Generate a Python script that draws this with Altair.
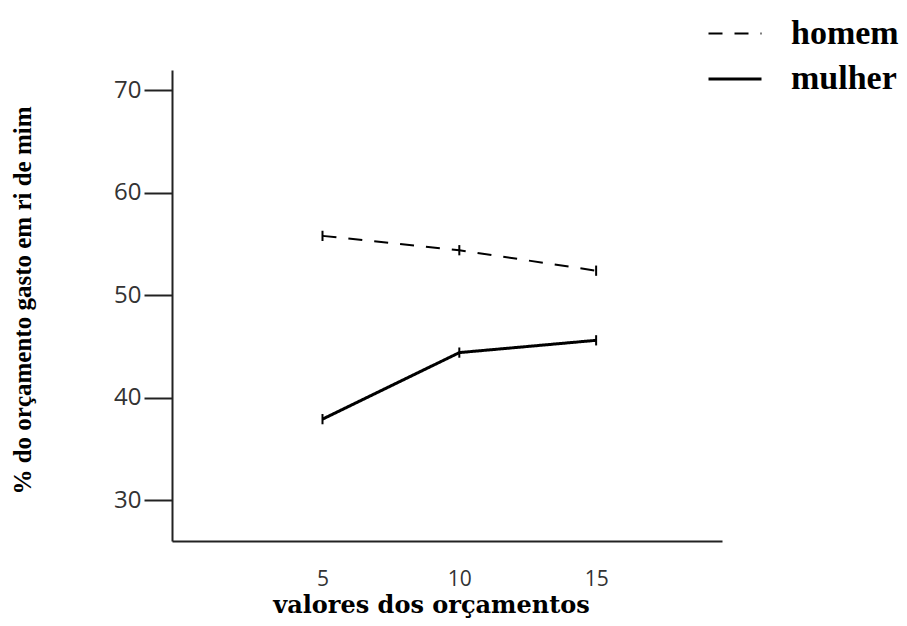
import altair as alt
import pandas as pd

orcamentos = [5, 10, 15]
series = ["homem", "mulher"]
homem = [55.8, 54.4, 52.4]
mulher = [37.9, 44.4, 45.6]
erro_homem = [0.5, 0.5, 0.5]
erro_mulher = [0.5, 0.5, 0.5]
y_ticks = [30, 40, 50, 60, 70]

rows = []
for s, vals, errs in [("homem", homem, erro_homem), ("mulher", mulher, erro_mulher)]:
    for xv, v, e in zip(orcamentos, vals, errs):
        rows.append({"orcamento": xv, "valor": v, "lo": v - e, "hi": v + e, "sexo": s})
df = pd.DataFrame(rows)

x_enc = alt.X(
    "orcamento:Q",
    scale=alt.Scale(domain=[-0.5, 19.6], nice=False, zero=False),
    axis=alt.Axis(
        values=orcamentos, title="valores dos orçamentos", tickSize=0, labelPadding=27,
        labelFont="Open Sans", labelFontSize=21, labelColor="#333", domainColor="#222",
        domainWidth=2, grid=False, titleFont="DejaVu Serif", titleFontSize=24,
        titleFontWeight="bold", titleX=259, titleY=71, titleBaseline="alphabetic",
        titleAlign="center", titleColor="black",
    ),
)
y_enc = alt.Y(
    "valor:Q",
    scale=alt.Scale(domain=[26, 72], nice=False, zero=False),
    axis=alt.Axis(
        values=y_ticks, title="% do orçamento gasto em ri de mim", tickSize=28, tickWidth=2,
        tickColor="#222", labelPadding=3, labelFont="Open Sans", labelFontSize=24,
        labelColor="#333", domainColor="#222", domainWidth=2, grid=False,
        titleFont="Liberation Serif", titleFontSize=25, titleFontWeight="bold",
        titleAngle=270, titleX=-142, titleY=230, titleAlign="center",
        titleBaseline="alphabetic", titleColor="black",
    ),
)

leg = alt.Legend(
    title=None, orient="none", legendX=535, legendY=-64, symbolType="stroke",
    symbolSize=2809, symbolStrokeColor="black", labelFont="Liberation Serif",
    labelFontSize=34, labelFontWeight="bold", labelColor="black", labelOffset=28,
    rowPadding=-9, padding=0,
)

lines = alt.Chart(df).mark_line(color="black").encode(
    x=x_enc,
    y=y_enc,
    strokeDash=alt.StrokeDash("sexo:N", scale=alt.Scale(domain=series, range=[[14, 12], [1, 0]]), legend=leg),
    strokeWidth=alt.StrokeWidth("sexo:N", scale=alt.Scale(domain=series, range=[2, 3]), legend=leg),
)

bars = alt.Chart(df).mark_rule(color="black", strokeWidth=2).encode(
    x="orcamento:Q", y="lo:Q", y2="hi:Q"
)

chart = alt.layer(lines, bars).properties(
    width=550, height=471,
    padding={"left": 164, "top": 62, "right": 177, "bottom": 77},
    autosize=alt.AutoSizeParams(type="none"),
).configure_view(stroke=None)

chart.save("out.html", embed_options={"renderer": "svg", "actions": False})
